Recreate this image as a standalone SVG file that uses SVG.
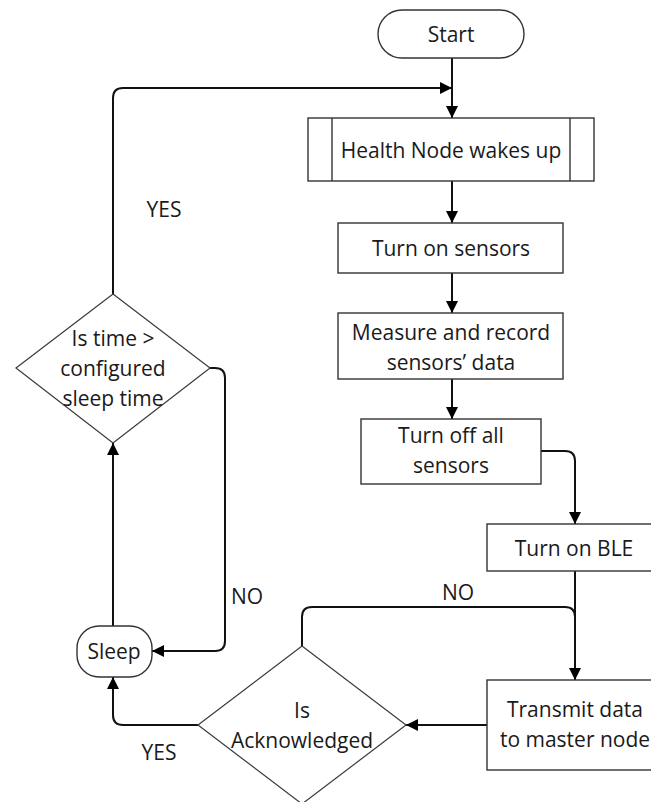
<svg xmlns="http://www.w3.org/2000/svg" width="651" height="802" viewBox="0 0 651 802">
  <style>
    .box { fill: #ffffff; stroke: #333333; stroke-width: 1.4; }
    .dia { fill: #ffffff; stroke: #3a3a3a; stroke-width: 1.2; }
    .wire { fill: none; stroke: #111111; stroke-width: 2; }
    text { font-family: "Open Sans", "Noto Sans", "Liberation Sans", sans-serif; font-size: 21px; fill: #1a1a1a; text-anchor: middle; dominant-baseline: central; }
  </style>
  <defs>
    <marker id="arrow" markerUnits="userSpaceOnUse" markerWidth="13" markerHeight="13" refX="12" refY="6" orient="auto">
      <path d="M0,0 L12,6 L0,12 Z" fill="#000000"/>
    </marker>
  </defs>
  <rect width="651" height="802" fill="#ffffff"/>

  <g id="connectors">
    <path class="wire" d="M452,58 V118" marker-end="url(#arrow)"/>
    <path class="wire" d="M113,294 V98 Q113,88 123,88 H452" marker-end="url(#arrow)"/>
    <path class="wire" d="M452,181 V223" marker-end="url(#arrow)"/>
    <path class="wire" d="M452,273 V313" marker-end="url(#arrow)"/>
    <path class="wire" d="M452,379 V419" marker-end="url(#arrow)"/>
    <path class="wire" d="M541,451 H565 Q575,451 575,461 V524" marker-end="url(#arrow)"/>
    <path class="wire" d="M575,571 V680" marker-end="url(#arrow)"/>
    <path class="wire" d="M302,646 V617 Q302,607 312,607 H565 Q575,607 575,617"/>
    <path class="wire" d="M487,725 H406" marker-end="url(#arrow)"/>
    <path class="wire" d="M200,725 H123 Q113,725 113,715 V677" marker-end="url(#arrow)"/>
    <path class="wire" d="M113,626 V443" marker-end="url(#arrow)"/>
    <path class="wire" d="M210,368 H215 Q225,368 225,378 V641 Q225,651 215,651 H152" marker-end="url(#arrow)"/>
    <text x="164" y="209">YES</text>
    <text x="247" y="596">NO</text>
    <text x="458" y="592">NO</text>
    <text x="159" y="752">YES</text>
  </g>

  <g id="start">
    <rect class="box" x="378" y="10" width="146" height="48" rx="24" ry="24"/>
    <text x="451" y="34">Start</text>
  </g>

  <g id="wake">
    <rect class="box" x="308" y="118" width="286" height="63"/>
    <line class="box" x1="332" y1="118" x2="332" y2="181"/>
    <line class="box" x1="570" y1="118" x2="570" y2="181"/>
    <text x="451" y="150">Health Node wakes up</text>
  </g>

  <g id="sensors-on">
    <rect class="box" x="338" y="223" width="225" height="50"/>
    <text x="451" y="248">Turn on sensors</text>
  </g>

  <g id="measure">
    <rect class="box" x="338" y="313" width="225" height="66"/>
    <text x="451" y="332">Measure and record</text>
    <text x="451" y="362">sensors’ data</text>
  </g>

  <g id="sensors-off">
    <rect class="box" x="361" y="419" width="180" height="65"/>
    <text x="451" y="435">Turn off all</text>
    <text x="451" y="465">sensors</text>
  </g>

  <g id="ble-on">
    <rect class="box" x="487" y="524" width="175" height="47"/>
    <text x="574" y="548">Turn on BLE</text>
  </g>

  <g id="transmit">
    <rect class="box" x="487" y="680" width="175" height="90"/>
    <text x="575" y="709">Transmit data</text>
    <text x="575" y="739">to master node</text>
  </g>

  <g id="acknowledged">
    <polygon class="dia" points="302,646 406,725 302,804 198,725"/>
    <text x="302" y="710">Is</text>
    <text x="302" y="740">Acknowledged</text>
  </g>

  <g id="sleep">
    <rect class="box" x="77" y="626" width="75" height="51" rx="22" ry="22"/>
    <text x="114" y="651">Sleep</text>
  </g>

  <g id="time-check">
    <polygon class="dia" points="113,294 210,368 113,443 16,368"/>
    <text x="113" y="338">Is time &gt;</text>
    <text x="113" y="368">configured</text>
    <text x="113" y="398">sleep time</text>
  </g>
</svg>
